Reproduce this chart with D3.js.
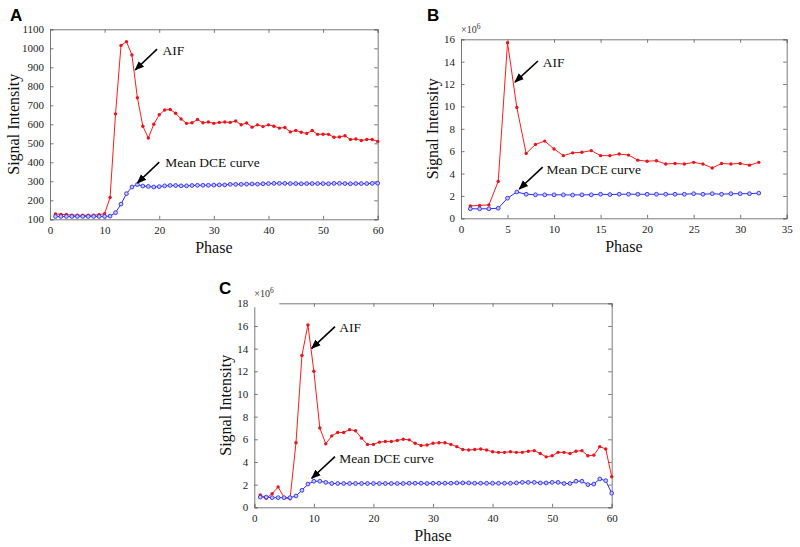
<!DOCTYPE html>
<html><head><meta charset="utf-8">
<script src="https://cdn.jsdelivr.net/npm/d3@7"></script>
<style>body{margin:0;background:#fff}svg{display:block}</style>
</head><body>
<svg id="c" width="800" height="547"></svg>
<script>
// ---------- Data ----------
const phaseA = d3.range(1, 61);
const aifA = [128,126,125,122,122,121,121,122,124,130,215,655,1015,1035,965,740,590,528,600,650,
  675,678,658,628,605,608,625,608,612,605,610,612,610,617,598,607,585,597,588,597,
  590,580,583,560,568,558,552,567,547,548,547,532,533,540,520,523,515,520,520,510];
const dceA = [115,115,115,115,115,115,115,115,115,115,117,135,180,235,270,283,275,273,270,272,
  276,278,278,276,276,278,279,279,279,280,281,281,284,284,284,285,286,285,287,288,
  289,289,289,288,288,287,288,288,288,288,287,289,289,288,287,288,288,288,289,290];

const phaseB = d3.range(1, 33);
const aifB = [1.1,1.15,1.2,3.3,15.7,9.9,5.8,6.6,6.9,6.2,5.6,5.85,5.9,6.05,5.6,5.6,5.75,5.65,5.2,5.1,
  5.15,4.85,4.9,4.85,5.0,4.85,4.5,4.9,4.85,4.9,4.75,5.0];
const dceB = [0.85,0.85,0.85,0.9,1.8,2.35,2.15,2.1,2.1,2.1,2.1,2.08,2.1,2.1,2.15,2.12,2.15,2.15,2.15,2.15,
  2.15,2.15,2.15,2.15,2.2,2.15,2.2,2.15,2.2,2.2,2.2,2.25];

const phaseC = d3.range(1, 61);
const aifC = [1.1,0.8,1.2,1.8,0.85,0.75,5.7,13.4,16.1,12.0,7.0,5.6,6.3,6.6,6.6,6.85,6.75,6.1,5.55,5.55,
  5.75,5.8,5.8,5.9,6.0,5.95,5.65,5.45,5.5,5.65,5.7,5.7,5.55,5.35,5.1,5.05,5.1,5.15,5.05,4.9,
  4.85,4.85,4.9,4.85,4.85,4.95,5.0,4.75,4.45,4.55,4.85,4.85,4.75,4.95,5.0,4.55,4.6,5.35,5.15,2.7];
const dceC = [0.9,0.9,0.85,0.85,0.85,0.85,1.0,1.5,2.05,2.3,2.3,2.2,2.1,2.1,2.1,2.1,2.1,2.1,2.1,2.1,
  2.1,2.1,2.1,2.1,2.1,2.12,2.12,2.12,2.1,2.12,2.12,2.12,2.12,2.15,2.15,2.15,2.12,2.12,2.12,2.12,
  2.12,2.12,2.12,2.15,2.2,2.2,2.2,2.15,2.15,2.2,2.2,2.1,2.1,2.3,2.3,2.0,2.05,2.5,2.35,1.25];

const xTicksA = d3.range(0, 61, 10), yTicksA = d3.range(100, 1101, 100);
const xTicksB = d3.range(0, 36, 5),  yTicksB = d3.range(0, 17, 2);
const xTicksC = d3.range(0, 61, 10), yTicksC = d3.range(0, 19, 2);

const panels = [
  {letter:"A", box:{l:50,t:29.3,w:327.7,h:190}, xd:[0,60], yd:[100,1100], xt:xTicksA, yt:yTicksA,
   x:phaseA, aif:aifA, dce:dceA, exp:false,
   ann:[{text:"AIF", tx:20.6, ty:965, a:[19.6,996,15.6,886]},
        {text:"Mean DCE curve", tx:21.1, ty:375, a:[20.0,401,16.0,291]}]},
  {letter:"B", box:{l:461,t:39.3,w:325.7,h:179}, xd:[0,35], yd:[0,16], xt:xTicksB, yt:yTicksB,
   x:phaseB, aif:aifB, dce:dceB, exp:true,
   ann:[{text:"AIF", tx:8.78, ty:13.52, a:[8.27,14.06,5.8,12.18]},
        {text:"Mean DCE curve", tx:9.2, ty:3.96, a:[8.78,4.58,6.26,2.62]}]},
  {letter:"C", box:{l:254.3,t:303.3,w:357.4,h:204}, xd:[0,60], yd:[0,18], xt:xTicksC, yt:yTicksC,
   x:phaseC, aif:aifC, dce:dceC, exp:true, cover:true,
   ann:[{text:"AIF", tx:14.27, ty:15.5, a:[13.55,15.94,9.64,14.03]},
        {text:"Mean DCE curve", tx:14.27, ty:3.94, a:[13.55,4.47,9.64,2.56]}]}
];

const svg = d3.select("#c");
const defs = svg.append("defs");
defs.append("marker").attr("id","ah").attr("viewBox","0 0 10 10").attr("refX",9).attr("refY",5)
  .attr("markerWidth",6).attr("markerHeight",6).attr("orient","auto")
  .append("path").attr("d","M0,1 L10,5 L0,9 Z").attr("fill","#000");

const serif = "'Liberation Serif','Times New Roman',serif";
const axisCol = "#6b6b6b";

panels.forEach(p => {
  const b = p.box;
  const g = svg.append("g").attr("transform", `translate(${b.l},${b.t})`);
  const x = d3.scaleLinear().domain(p.xd).range([0, b.w]);
  const y = d3.scaleLinear().domain(p.yd).range([b.h, 0]);

  // axes (MATLAB style: inward ticks, boxed)
  const tk = 3.5;
  const styleAxis = sel => {
    sel.select(".domain").attr("stroke", axisCol).attr("stroke-width", 0.9);
    sel.selectAll(".tick line").attr("stroke", axisCol).attr("stroke-width", 0.9);
    sel.selectAll("text").attr("font-family", serif).attr("font-size", 11).attr("fill", "#222");
  };
  g.append("g").attr("transform", `translate(0,${b.h})`)
    .call(d3.axisBottom(x).tickValues(p.xt).tickSize(-tk).tickPadding(7).tickFormat(d3.format("d")))
    .call(styleAxis);
  g.append("g")
    .call(d3.axisLeft(y).tickValues(p.yt).tickSize(-tk).tickPadding(6).tickFormat(d3.format("d")))
    .call(styleAxis);
  const top = g.append("g")
    .call(d3.axisTop(x).tickValues(p.xt).tickSize(-tk).tickFormat(""));
  top.call(styleAxis);
  const right = g.append("g").attr("transform", `translate(${b.w},0)`)
    .call(d3.axisRight(y).tickValues(p.yt).tickSize(-tk).tickFormat(""));
  right.call(styleAxis);
  g.selectAll(".domain").attr("d", function(){ return d3.select(this).attr("d").replace(/V[-\d.]+|H[-\d.]+/g, m => m); });

  // exponent label
  if (p.exp) {
    if (p.cover) g.append("rect").attr("x", -1).attr("y", -4).attr("width", 26).attr("height", 8).attr("fill", "#fff");
    const t = g.append("text").attr("x", 0).attr("y", -6).attr("font-family", serif)
      .attr("font-size", 10).attr("fill", "#333");
    t.append("tspan").text("×10");
    t.append("tspan").attr("dy", -4).attr("font-size", 7.5).text("6");
  }

  // lines
  const line = d3.line().x((d,i) => x(p.x[i])).y(d => y(d));
  g.append("path").datum(p.aif).attr("d", line).attr("fill", "none").attr("stroke", "#ff1a1a").attr("stroke-width", 1);
  g.append("path").datum(p.dce).attr("d", line).attr("fill", "none").attr("stroke", "#2a2aff").attr("stroke-width", 1);
  g.selectAll(".ma").data(p.aif).join("circle").attr("cx", (d,i) => x(p.x[i])).attr("cy", d => y(d))
    .attr("r", 1.7).attr("fill", "#e8141e");
  g.selectAll(".md").data(p.dce).join("circle").attr("cx", (d,i) => x(p.x[i])).attr("cy", d => y(d))
    .attr("r", 1.9).attr("fill", "#c8c8ff").attr("stroke", "#2a2aff").attr("stroke-width", 0.9);

  // annotations
  p.ann.forEach(a => {
    g.append("line").attr("x1", x(a.a[0])).attr("y1", y(a.a[1])).attr("x2", x(a.a[2])).attr("y2", y(a.a[3]))
      .attr("stroke", "#000").attr("stroke-width", 1.6).attr("marker-end", "url(#ah)");
    g.append("text").attr("x", x(a.tx)).attr("y", y(a.ty)).attr("font-family", serif)
      .attr("font-size", 13.5).attr("fill", "#111").text(a.text);
  });

  // axis titles
  g.append("text").attr("x", b.w/2).attr("y", b.h + 34).attr("text-anchor", "middle")
    .attr("font-family", serif).attr("font-size", 16).attr("fill", "#111").text("Phase");
  g.append("text").attr("transform", `translate(${p.letter==="A"?-31:-23},${b.h/2}) rotate(-90)`)
    .attr("text-anchor", "middle").attr("font-family", serif).attr("font-size", 16).attr("fill", "#111")
    .text("Signal Intensity");
});

// panel letters
const letters = [{t:"A", x:10, y:21}, {t:"B", x:427, y:21}, {t:"C", x:219, y:294}];
svg.selectAll(".lt").data(letters).join("text").attr("x", d => d.x).attr("y", d => d.y)
  .attr("font-family", "'Liberation Sans',Arial,sans-serif").attr("font-weight", "bold")
  .attr("font-size", 17).attr("fill", "#000").text(d => d.t);
</script>
</body></html>
